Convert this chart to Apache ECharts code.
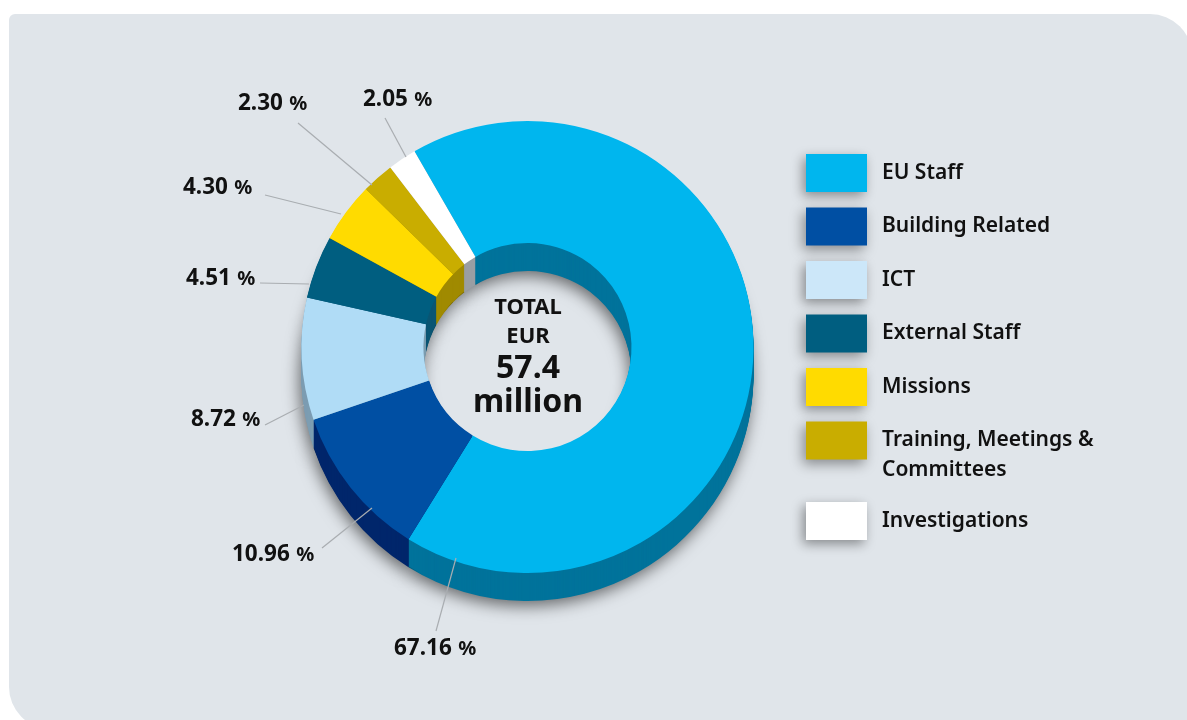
<!DOCTYPE html>
<html>
<head>
<meta charset="utf-8">
<style>html,body{margin:0;padding:0;background:#fff}#c{width:1187px;height:720px}</style>
<script src="https://cdn.jsdelivr.net/npm/echarts@6/dist/echarts.min.js"></script>
</head>
<body>
<div id="c"></div>
<script>
const categories = ['EU Staff','Building Related','ICT','External Staff','Missions','Training, Meetings & Committees','Investigations'];
const shares = [67.16,10.96,8.72,4.51,4.30,2.30,2.05];
const faceColors = ['#00b6ee','#004fa3','#b0dcf6','#005e80','#ffdb00','#c9ad00','#ffffff'];
const wallColors = ['#00739b','#00266b','#7d9db2','#0b5674','#a08a00','#a08a00','#9a9ea3'];
const legendColors = ['#00b6ee','#004fa3','#cce7f9','#005e80','#ffdb00','#c9ad00','#ffffff'];
const labelPos = [[394,649],[232,555],[191,420],[186,279],[183,188],[238,104],[363,100]];
const leaders = [
  [[436,631],[456,558]],[[322,548],[372,508]],[[265,425],[304,405]],
  [[260,283],[309,284]],[[265,195],[341,214]],[[298,123],[372,185]],[[385,118],[406,157]]
];
const FONT = '"Noto Sans", sans-serif';
const CX = 527.5, CY = 347, RI = 104, RO = 226, DEPTH = 28;
const data = (colors) => categories.map((n,i)=>({name:n,value:shares[i],itemStyle:{color:colors[i]}}));
const series = [{
  type:'pie', name:'Share', z:100, center:[CX,CY], radius:[RI,RO], startAngle:120, clockwise:true,
  avoidLabelOverlap:false, silent:true, animation:false,
  data:data(faceColors),
  label:{show:true,position:'outside',
    formatter:p=>'{n|'+p.value.toFixed(2)+'} {p|%}',
    rich:{n:{fontFamily:FONT,fontWeight:700,fontSize:22.5,color:'#111'},p:{fontFamily:FONT,fontWeight:700,fontSize:20,color:'#111',padding:[0,0,0,3]}}},
  labelLine:{show:false},
  labelLayout:p=>({x:labelPos[p.dataIndex][0],y:labelPos[p.dataIndex][1],align:'left',verticalAlign:'middle'})
}];
for(let k=DEPTH;k>=1;k--){
  const s={type:'pie',name:'wall'+k,z:100-k,center:[CX,CY+k],radius:[RI,RO],startAngle:120,silent:true,animation:false,
    legendHoverLink:false,label:{show:false},labelLine:{show:false},
    data:data(wallColors)};
  if(k===DEPTH){s.data=s.data.map(d=>({...d,itemStyle:{...d.itemStyle,shadowBlur:16,shadowColor:'rgba(0,0,0,0.55)',shadowOffsetX:-2,shadowOffsetY:5}}));}
  series.push(s);
}
const legendBase = {orient:'vertical',left:806,padding:0,itemWidth:61,itemHeight:38,icon:'rect',selectedMode:false,
  itemStyle:{shadowBlur:12,shadowColor:'rgba(0,0,0,0.4)',shadowOffsetX:-3,shadowOffsetY:4},
  textStyle:{fontFamily:FONT,fontWeight:600,fontSize:21,color:'#111',padding:[3,0,0,10]},
  formatter:n=>n==='Training, Meetings & Committees'?'Training, Meetings &':n};
const legendItem = i=>({name:categories[i],itemStyle:{color:legendColors[i]}});
const text = (t,x,y,size,weight,align)=>({type:'text',z:200,silent:true,x:x,y:y,style:{text:t,fontFamily:FONT,fontWeight:weight,fontSize:size,fill:'#111',align:align||'center',verticalAlign:'middle'}});
const graphic = [
  {type:'rect',z:-10,silent:true,shape:{x:9,y:14,width:1183,height:715,r:[6,42,0,42]},style:{fill:'#e0e5ea'}},
  ...leaders.map(l=>({type:'line',z:200,silent:true,shape:{x1:l[0][0],y1:l[0][1],x2:l[1][0],y2:l[1][1]},style:{stroke:'#a9adb1',lineWidth:1.2}})),
  text('TOTAL',528,308,22,700),text('EUR',528,337,22,700),text('57.4',528,369,32,700),text('million',528,403,32,700),
  text('Committees',882,470,21,600,'left')
];
const chart = echarts.init(document.getElementById('c'),null,{renderer:'canvas'});
chart.setOption({
  animation:false,backgroundColor:'#ffffff',
  legend:[
    {...legendBase,top:154,itemGap:15.5,data:[0,1,2,3,4,5].map(legendItem)},
    {...legendBase,top:502,data:[legendItem(6)]}
  ],
  graphic:graphic,
  series:series
});
</script>
</body>
</html>
